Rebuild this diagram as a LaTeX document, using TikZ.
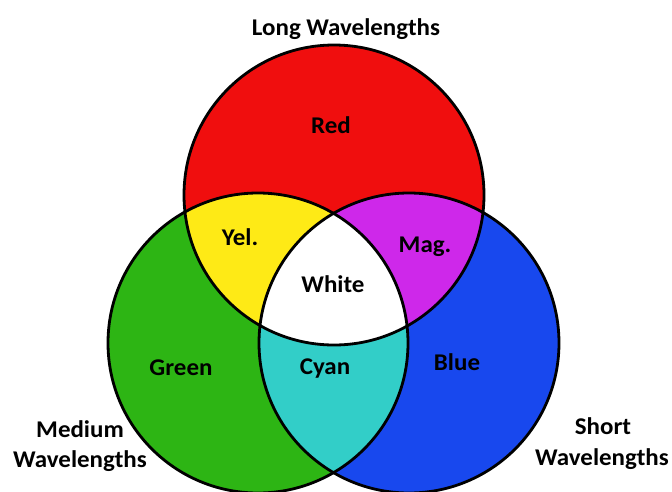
\documentclass[tikz,border=0pt]{standalone}
\usepackage{fontspec}
\setmainfont{Carlito}[FakeStretch=1.04]
\definecolor{cred}{RGB}{240,14,14}
\definecolor{cgreen}{RGB}{45,181,20}
\definecolor{cblue}{RGB}{24,72,238}
\definecolor{cyel}{RGB}{254,234,22}
\definecolor{cmag}{RGB}{206,40,234}
\definecolor{ccyan}{RGB}{50,206,200}
\begin{document}
\begin{tikzpicture}[x=1pt,y=-1pt,
  lbl/.style={font=\bfseries\fontsize{24}{30}\selectfont, text=black, inner sep=0pt, anchor=base},
  ring/.style={draw=black, line width=2.8pt}]
\useasboundingbox (0,0) rectangle (672,491);
\def\rr{150pt}
\coordinate (R) at (334,195);
\coordinate (G) at (258,343);
\coordinate (B) at (409,343);
% base fills
\fill[cred] (R) circle[radius=\rr];
\fill[cgreen] (G) circle[radius=\rr];
\fill[cblue] (B) circle[radius=\rr];
% pairwise overlaps
\begin{scope}
  \clip (R) circle[radius=\rr];
  \fill[cyel] (G) circle[radius=\rr];
  \fill[cmag] (B) circle[radius=\rr];
\end{scope}
\begin{scope}
  \clip (G) circle[radius=\rr];
  \fill[ccyan] (B) circle[radius=\rr];
\end{scope}
\begin{scope}
  \clip (R) circle[radius=\rr];
  \clip (G) circle[radius=\rr];
  \fill[white] (B) circle[radius=\rr];
\end{scope}
% outlines
\draw[ring] (R) circle[radius=\rr];
\draw[ring] (G) circle[radius=\rr];
\draw[ring] (B) circle[radius=\rr];
% labels
\node[lbl] (long) at (346,35) {Long Wavelengths};
\node[lbl] (red) at (331,133.5) {Red};
\node[lbl] (yel) at (240,245.5) {Yel.};
\node[lbl] (mag) at (425,252.5) {Mag.};
\node[lbl] (white) at (333,292.5) {White};
\node[lbl] (green) at (181,375.5) {Green};
\node[lbl] (cyan) at (325,374) {Cyan};
\node[lbl] (blue) at (457,370.5) {Blue};
\node[lbl] (medium1) at (80,437) {Medium};
\node[lbl] (medium2) at (80,467) {Wavelengths};
\node[lbl] (short1) at (603,434) {Short};
\node[lbl] (short2) at (602,465) {Wavelengths};
\end{tikzpicture}
\end{document}
